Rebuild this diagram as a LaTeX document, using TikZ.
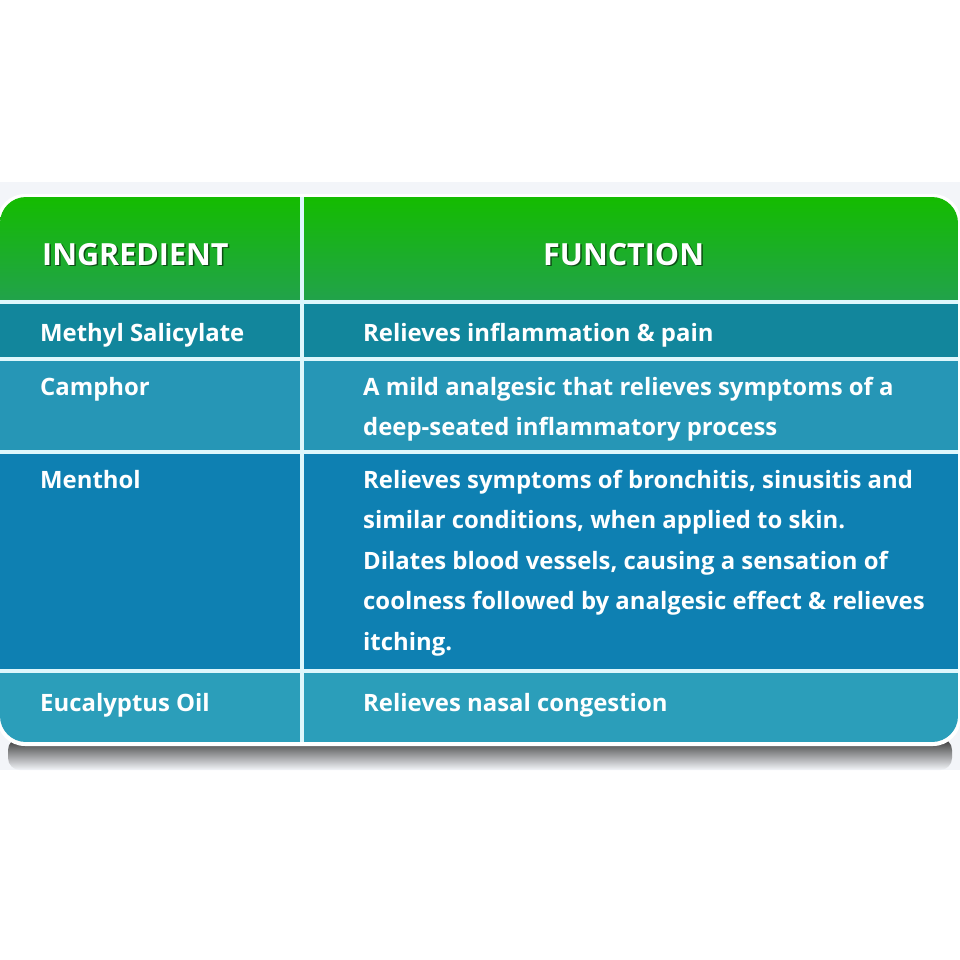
\documentclass[tikz,border=0pt]{standalone}
\usepackage{fontspec}
\setmainfont{Open Sans}
\usetikzlibrary{positioning}
\definecolor{headtop}{RGB}{20,188,0}
\definecolor{headbot}{RGB}{34,162,76}
\definecolor{rowa}{RGB}{18,134,156}
\definecolor{rowb}{RGB}{38,150,182}
\definecolor{rowc}{RGB}{14,128,178}
\definecolor{rowd}{RGB}{43,158,186}
\definecolor{sepline}{RGB}{222,247,252}
\definecolor{backstrip}{RGB}{243,245,249}

\begin{document}
\begin{tikzpicture}[x=1pt, y=-1pt,
    cell/.style={anchor=base west, text=white, font=\bfseries\fontsize{23.9}{40.5}\selectfont, align=left, inner sep=0pt},
    head/.style={anchor=base west, text=white, font=\bfseries\fontsize{30.5}{34}\selectfont, inner sep=0pt},
    glow/.style={head, text=black, opacity=0.55},
    sep/.style={draw=sepline, line width=3.5pt}
]
    \useasboundingbox (0,0) rectangle (960,960);
    \fill[white] (0,0) rectangle (960,960);
    \fill[backstrip] (0,182) rectangle (960,770);
    % shadow under the table
    \shade[top color=black!80, bottom color=backstrip, rounded corners=12pt] (8,738) rectangle (952,770);
    \fill[white, rounded corners=28pt] (-3,194) rectangle (961,746);

    \begin{scope}
        \clip[rounded corners=26pt] (0,197) rectangle (958,742);
        \shade[top color=headtop, bottom color=headbot] (0,197) rectangle (958,302);
        \fill[rowa] (0,302) rectangle (958,359);
        \fill[rowb] (0,359) rectangle (958,452);
        \fill[rowc] (0,452) rectangle (958,671);
        \fill[rowd] (0,671) rectangle (958,742);
        \draw[sep] (0,302) -- (958,302);
        \draw[sep] (0,359) -- (958,359);
        \draw[sep] (0,452) -- (958,452);
        \draw[sep] (0,671) -- (958,671);
        \draw[sep] (302,197) -- (302,742);
    \end{scope}

    % header
    \node[glow] (ingglow) at (43.5,266.5) {INGREDIENT};
    \node[glow] (funglow) at (544.5,266.5) {FUNCTION};
    \node[head] (ingredient) at (42,265) {INGREDIENT};
    \node[head] (function) at (543,265) {FUNCTION};

    % rows (multi-line cells sit on their last baseline)
    \node[cell] (methyl) at (40,341) {Methyl Salicylate};
    \node[cell] (methylfn) at (363,341) {Relieves inflammation \& pain};
    \node[cell] (camphor) at (40,395) {Camphor};
    \node[cell] (camphorfn) at (363,435.5) {A mild analgesic that relieves symptoms of a\\deep-seated inflammatory process};
    \node[cell] (menthol) at (40,488) {Menthol};
    \node[cell] (mentholfn) at (363,650) {Relieves symptoms of bronchitis, sinusitis and\\similar conditions, when applied to skin.\\Dilates blood vessels, causing a sensation of\\coolness followed by analgesic effect \& relieves\\itching.};
    \node[cell] (eucalyptus) at (40,711) {Eucalyptus Oil};
    \node[cell] (eucalyptusfn) at (363,711) {Relieves nasal congestion};
\end{tikzpicture}
\end{document}
